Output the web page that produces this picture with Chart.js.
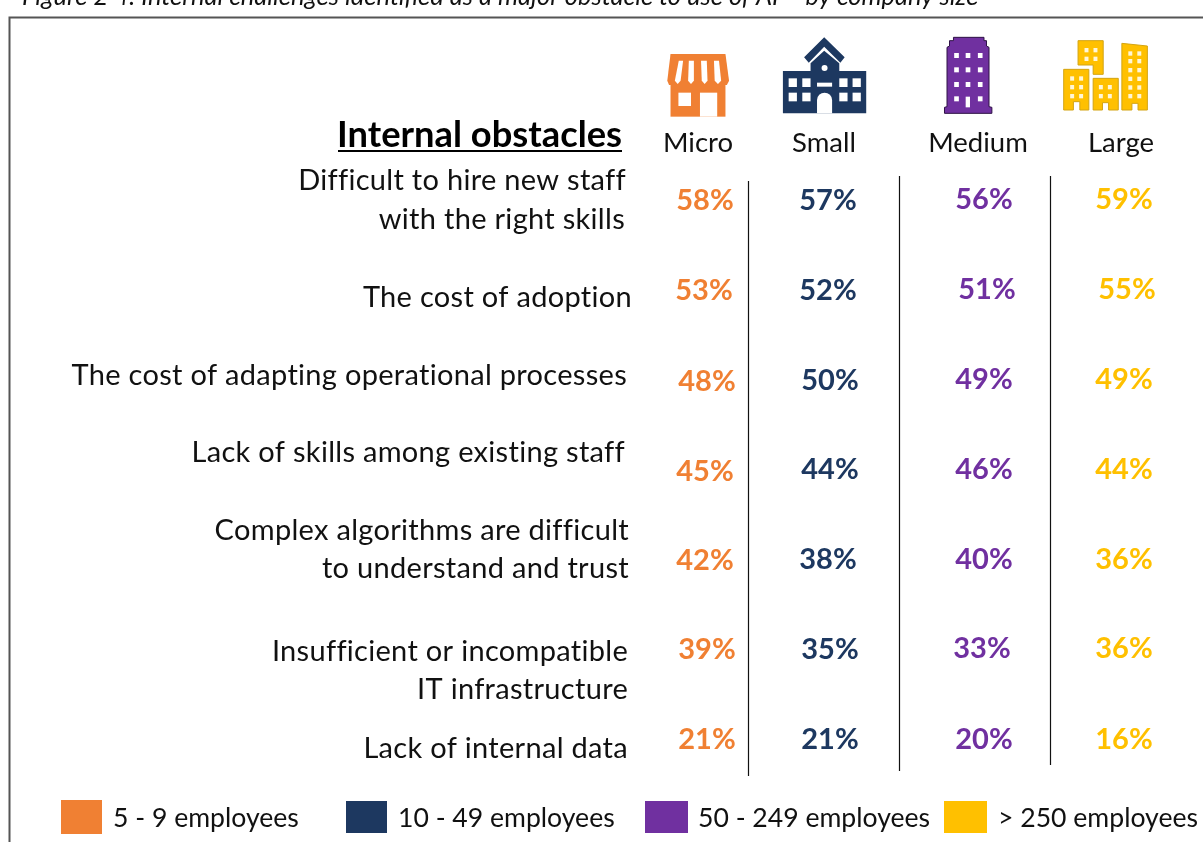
<!DOCTYPE html>
<html><head><meta charset="utf-8">
<style>html,body{margin:0;padding:0;background:#fff}#w{width:1203px;height:842px;position:relative}canvas{display:block}</style>
<script src="https://cdn.jsdelivr.net/npm/chart.js@4"></script>
</head><body><div id="w"><canvas id="c" width="1203" height="842"></canvas></div>
<script>
// ---- data ----
const obstacles = ["Difficult to hire new staff|with the right skills","The cost of adoption","The cost of adapting operational processes","Lack of skills among existing staff","Complex algorithms are difficult|to understand and trust","Insufficient or incompatible|IT infrastructure","Lack of internal data"];
const sizes = ["Micro","Small","Medium","Large"];
const legendLabels = ["5 - 9 employees","10 - 49 employees","50 - 249 employees","> 250 employees"];
const micro = [58,53,48,45,42,39,21];
const small = [57,52,50,44,38,35,21];
const medium = [56,51,49,46,40,33,20];
const large = [59,55,49,44,36,36,16];
const title = "Figure 2 4: Internal challenges identified as a major obstacle to use of AI \u2013 by company size";
const heading = "Internal obstacles";
// ---- style / layout ----
const colours = ["#F08033","#1D3860","#7030A0","#FFC000"];
const colX = [705,828,984,1124];
const nudgeX = [[0,-1,2,0,0,2,2],[0,0,2,2,0,2,2],[0,3,0,0,0,-2,0],[0,3,0,0,0,0,0]];
const nudgeY = [[1,1,2,2,1,1,1],[1,1,1,0,0,1,1],[0,0,0,0,0,0,1],[0,0,0,0,0,0,1]];
const rowTop = 200, rowStep = 89.8;
const F = "Lato, Carlito, sans-serif";
const labelLines = [[[626,181],[625,220]],[[632,298]],[[627,376]],[[625,453]],[[629,531],[629,569]],[[628,652],[628,690]],[[628,749]]];
const headerX = [698,824,978,1121];
const dividerX = [748.5,899.5,1050.5], dividerTop=[181,176,176], dividerBottom=[776,771,765];
const legendSwatch=[[61,800,41,34],[346,801,41,32],[645,801,43,32],[944,801,43,32]];
const legendTextX=[113,398,698,998];

const datasets = [micro,small,medium,large].map((vals,s)=>({
  label: sizes[s],
  backgroundColor: colours[s],
  pointRadius: 0,
  data: vals.map((v,i)=>({x:colX[s]+nudgeX[s][i], y:i+nudgeY[s][i]/rowStep, v}))
}));

function poly(ctx,pts){ctx.beginPath();pts.forEach((p,i)=>i?ctx.lineTo(p[0],p[1]):ctx.moveTo(p[0],p[1]));ctx.closePath();}
function drawIcons(ctx){
  const X=z=>640+z/2.785, Y=z=>20+z/3;
  const P=a=>a.map(p=>[X(p[0]),Y(p[1])]);
  const R=(x,y,w,h,col)=>{ctx.fillStyle=col;ctx.fillRect(X(x),Y(y),w/2.785,h/3);};
  // micro shop
  ctx.fillStyle=colours[0];
  poly(ctx,P([[85,102],[238,102],[248,182],[242,195],[81,195],[76,182]]));ctx.fill();
  R(85,195,153,95,colours[0]);
  [[108,120,97,113],[136,150,134,150],[170,186,172,188],[206,220,208,226]].forEach(s=>{
    ctx.fillStyle="#fff";poly(ctx,P([[s[0],122],[s[1],122],[s[3],182],[(s[2]+s[3])/2,192],[s[2],182]]));ctx.fill();});
  R(107,218,35,40,"#fff");R(167,218,48,72,"#fff");
  // small school
  ctx.fillStyle=colours[1];
  poly(ctx,P([[513,52],[570,112],[558,128],[513,80],[470,128],[457,112]]));ctx.fill();
  poly(ctx,P([[513,92],[555,130],[555,153],[630,153],[630,280],[398,280],[398,153],[475,153],[475,130]]));ctx.fill();
  ctx.fillStyle="#fff";
  ctx.beginPath();ctx.ellipse(X(514),Y(144),3,3,0,0,7);ctx.fill();
  [[414,175],[452,175],[414,218],[452,218],[555,175],[592,175],[555,218],[592,218]].forEach(w=>R(w[0],w[1],23,26,"#fff"));
  R(493,188,42,12,"#fff");
  R(493,240,42,40,"#fff");
  ctx.fillStyle="#fff";ctx.beginPath();ctx.ellipse(X(514),Y(240),21/2.785,22/3,0,Math.PI,2*Math.PI);ctx.fill();
  // medium tower
  ctx.fillStyle=colours[2];ctx.strokeStyle="#2E1245";ctx.lineWidth=1;
  poly(ctx,P([[873,52],[958,52],[958,62],[965,62],[965,78],[972,82],[972,260],[980,262],[980,280],[848,280],[848,262],[855,260],[855,82],[862,78],[862,62],[873,62]]));ctx.fill();ctx.stroke();
  [106,149,193,236].forEach((y,r)=>[881,913,947].forEach((x,c)=>{
    if(r===3&&c===1) R(907,230,12,32,"#fff"); else R(x-6,y-7,13,15,"#fff");}));
  // large blocks
  const yb=(pts,wins)=>{ctx.fillStyle=colours[3];ctx.strokeStyle="#D3A412";ctx.lineWidth=1;poly(ctx,P(pts));ctx.fill();ctx.stroke();
    wins.forEach(w=>R(w[0]-5,w[1]-6,11,13,"#FFF6D8"));};
  const grid=(xs,ys)=>xs.flatMap(x=>ys.map(y=>[x,y]));
  yb([[1220,62],[1290,62],[1290,163],[1262,163],[1262,135],[1220,135]],grid([1243,1268],[90,116]));
  yb([[1180,148],[1250,148],[1250,270],[1225,270],[1225,245],[1207,245],[1207,270],[1180,270]],grid([1203,1228],[175,201,228]));
  yb([[1262,175],[1332,175],[1332,270],[1305,270],[1305,248],[1288,248],[1288,270],[1262,270]],grid([1283,1308],[201,228]));
  yb([[1342,70],[1413,78],[1413,270],[1387,270],[1387,250],[1370,250],[1370,270],[1342,270]],grid([1365,1390],[100,123,150,176,202,228]));
}

const tablePlugin = {
  id:'tablePlugin',
  afterDraw(chart){
    const ctx=chart.ctx, sx=chart.scales.x, sy=chart.scales.y;
    ctx.save();
    ctx.textBaseline='middle';
    // title (cropped by the top edge)
    ctx.fillStyle='#111';ctx.textAlign='left';ctx.font='italic 25.5px '+F;
    ctx.fillText(title,22,-3);
    // frame
    ctx.strokeStyle='#555';ctx.lineWidth=2;
    ctx.beginPath();ctx.moveTo(9.5,842);ctx.lineTo(9.5,17.5);ctx.lineTo(1203,17.5);ctx.stroke();
    // heading
    ctx.fillStyle='#000';ctx.textAlign='right';ctx.font='bold 36.3px '+F;
    ctx.fillText(heading,622,135.5);
    ctx.fillRect(338,150,284,2);
    // obstacle labels
    ctx.fillStyle='#111';
    ctx.font='29px '+F;ctx.letterSpacing='0.3px';
    obstacles.forEach((o,i)=>o.split('|').forEach((l,j)=>ctx.fillText(l,labelLines[i][j][0],labelLines[i][j][1])));
    ctx.letterSpacing='0px';
    // headers
    ctx.textAlign='center';ctx.font='27.5px '+F;
    sizes.forEach((s,i)=>ctx.fillText(s,headerX[i],143.5));
    // dividers
    ctx.strokeStyle='#111';ctx.lineWidth=1.2;
    dividerX.forEach((x,i)=>{ctx.beginPath();ctx.moveTo(sx.getPixelForValue(x),dividerTop[i]);ctx.lineTo(sx.getPixelForValue(x),dividerBottom[i]);ctx.stroke();});
    // values
    ctx.font='bold 29px '+F;
    chart.data.datasets.forEach(ds=>{ctx.fillStyle=ds.backgroundColor;
      ds.data.forEach(d=>ctx.fillText(d.v+'%',sx.getPixelForValue(d.x),sy.getPixelForValue(d.y)));});
    // legend
    ctx.textAlign='left';ctx.font='26.6px '+F;
    legendLabels.forEach((t,i)=>{const r=legendSwatch[i];ctx.fillStyle=colours[i];ctx.fillRect(r[0],r[1],r[2],r[3]);
      ctx.fillStyle='#111';ctx.fillText(t,legendTextX[i],818);});
    drawIcons(ctx);
    ctx.restore();
  }
};

new Chart(document.getElementById('c'),{
  type:'scatter',
  data:{datasets},
  options:{
    responsive:false,animation:false,
    layout:{padding:0},
    plugins:{legend:{display:false},tooltip:{enabled:false},title:{display:false}},
    scales:{
      x:{type:'linear',display:false,min:0,max:1203},
      y:{type:'linear',display:false,reverse:true,min:-rowTop/rowStep,max:(842-rowTop)/rowStep}
    }
  },
  plugins:[tablePlugin]
});
</script></body></html>
